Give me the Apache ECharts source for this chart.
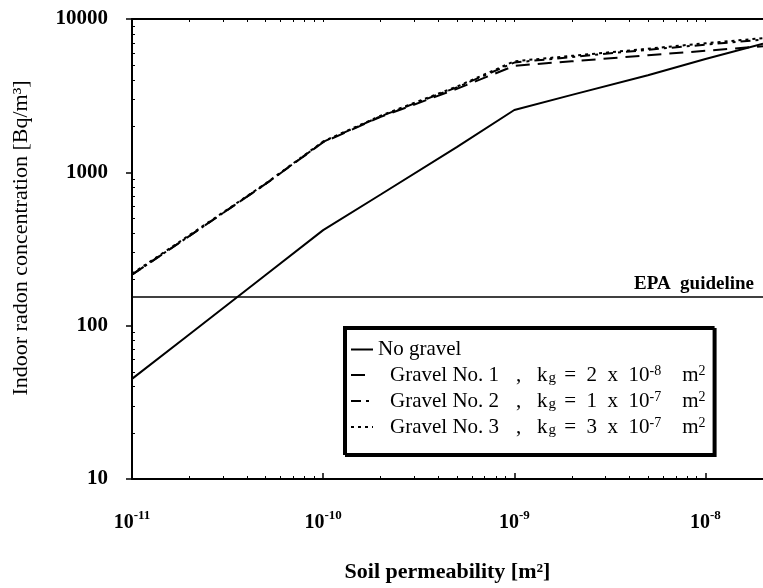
<!DOCTYPE html>
<html>
<head>
<meta charset="utf-8">
<script src="https://cdn.jsdelivr.net/npm/echarts@6/dist/echarts.min.js"></script>
<style>
html,body{margin:0;padding:0;background:#fff;}
#chart{width:763px;height:588px;}
</style>
</head>
<body>
<div id="chart"></div>
<script>
// ---- data ----
const permeability = [1e-11, 2e-11, 5e-11, 1e-10, 2e-10, 5e-10, 1e-9, 2e-9, 5e-9, 1e-8, 2e-8];
const noGravel     = [45, 88, 214, 420, 717, 1460, 2550, 3200, 4300, 5480, 6900];
const gravel1      = [215, 385, 840, 1570, 2300, 3500, 4950, 5300, 5800, 6200, 6650];
const gravel2      = [215, 385, 840, 1580, 2320, 3580, 5200, 5650, 6300, 6800, 7350];
const gravel3      = [218, 390, 845, 1590, 2340, 3620, 5300, 5750, 6400, 6950, 7500];
const epaLevel = 155;

const seriesNames = ['No gravel', 'Gravel No. 1', 'Gravel No. 2', 'Gravel No. 3'];
const kgMantissa = ['', '2', '1', '3'];
const kgExponent = ['', '-8', '-7', '-7'];

const xMajor = [1e-11, 1e-10, 1e-9, 1e-8];
const xTickExp = ['-11', '-10', '-9', '-8'];
const yMajor = [10, 100, 1000, 10000];
const yTickLabels = ['10', '100', '1000', '10000'];

const xMin = 1e-11, xMax = 2e-8, yMin = 10, yMax = 10000;

// minor tick positions (2..9 x decade)
function minorTicks(lo, hi) {
  const out = [];
  for (let e = Math.floor(Math.log10(lo)); e <= Math.ceil(Math.log10(hi)); e++) {
    for (let k = 2; k <= 9; k++) {
      const v = parseFloat((k * Math.pow(10, e)).toPrecision(6));
      if (v > lo && v < hi) out.push(v);
    }
  }
  return out;
}
const xMinor = minorTicks(xMin, xMax);
const yMinor = minorTicks(yMin, yMax);

const FONT = "'Liberation Serif', 'Times New Roman', serif";

function pairs(ys) { return permeability.map((x, i) => [x, ys[i]]); }

const chart = echarts.init(document.getElementById('chart'), null, {renderer: 'canvas'});

const base = {fontFamily: FONT, fontSize: 21, color: '#000', lineHeight: 22, verticalAlign: 'middle'};
const legendRich = {
  a: Object.assign({}, base),
  n: Object.assign({}, base, {width: 126, padding: [0, 0, 0, 12]}),
  c: Object.assign({}, base),
  t: Object.assign({}, base),
  sub: {fontFamily: FONT, fontSize: 15, color: '#000', lineHeight: 4, verticalAlign: 'bottom', padding: [0, 3, 0, 1]},
  sup: {fontFamily: FONT, fontSize: 14, color: '#000', lineHeight: 12, verticalAlign: 'top'}
};

const option = {
  backgroundColor: '#fff',
  animation: false,
  grid: {left: 132, top: 19, right: -5, bottom: 104, containLabel: false},
  xAxis: [
    {
      type: 'log', logBase: 10, min: xMin, max: xMax, position: 'bottom',
      axisLine: {show: true, lineStyle: {color: '#000', width: 2}},
      axisTick: {show: true, inside: true, length: 6, lineStyle: {color: '#000', width: 1.5}, customValues: xMajor},
      splitLine: {show: false},
      axisLabel: {
        customValues: xMajor,
        margin: 30,
        formatter: function (v) {
          const i = xMajor.findIndex(m => Math.abs(Math.log10(m) - Math.log10(v)) < 1e-6);
          return '{b|10}{s|' + (i >= 0 ? xTickExp[i] : '') + '}';
        },
        rich: {
          b: {fontFamily: FONT, fontSize: 20, fontWeight: 'bold', color: '#000', lineHeight: 24, verticalAlign: 'bottom'},
          s: {fontFamily: FONT, fontSize: 13, fontWeight: 'bold', color: '#000', lineHeight: 13, verticalAlign: 'top'}
        }
      },
      name: 'Soil permeability [m²]',
      nameLocation: 'middle',
      nameGap: 82,
      nameTextStyle: {fontFamily: FONT, fontSize: 22, fontWeight: 'bold', color: '#000'}
    },
    {
      type: 'log', logBase: 10, min: xMin, max: xMax, position: 'bottom',
      axisLine: {show: false},
      axisTick: {show: true, inside: true, length: 3, lineStyle: {color: '#000', width: 1}, customValues: xMinor},
      axisLabel: {show: false}, splitLine: {show: false}
    },
    {
      type: 'log', logBase: 10, min: xMin, max: xMax, position: 'top',
      axisLine: {show: true, lineStyle: {color: '#000', width: 2}},
      axisTick: {show: true, inside: true, length: 3, lineStyle: {color: '#000', width: 1}, customValues: xMinor.concat(xMajor)},
      axisLabel: {show: false}, splitLine: {show: false}
    }
  ],
  yAxis: [
    {
      type: 'log', logBase: 10, min: yMin, max: yMax, position: 'left',
      axisLine: {show: true, lineStyle: {color: '#000', width: 2}},
      axisTick: {show: true, inside: false, length: 6, lineStyle: {color: '#000', width: 1.5}, customValues: yMajor},
      splitLine: {show: false},
      axisLabel: {
        customValues: yMajor,
        margin: 24,
        formatter: function (v) {
          const i = yMajor.findIndex(m => Math.abs(Math.log10(m) - Math.log10(v)) < 1e-6);
          return i >= 0 ? yTickLabels[i] : '';
        },
        fontFamily: FONT, fontSize: 21, fontWeight: 'bold', color: '#000'
      },
      name: 'Indoor radon concentration [Bq/m³]',
      nameLocation: 'middle',
      nameGap: 100,
      nameTextStyle: {fontFamily: FONT, fontSize: 22, color: '#000', padding: [0, 0, 0, 22]}
    },
    {
      type: 'log', logBase: 10, min: yMin, max: yMax, position: 'left',
      axisLine: {show: false},
      axisTick: {show: true, inside: true, length: 3, lineStyle: {color: '#000', width: 1}, customValues: yMinor},
      axisLabel: {show: false}, splitLine: {show: false}
    }
  ],
  legend: {
    data: seriesNames,
    orient: 'vertical',
    left: 344, top: 327,
    padding: [12, 8, 16, 6],
    itemGap: 4,
    itemWidth: 22,
    itemHeight: 10,
    backgroundColor: '#fff',
    borderColor: '#000',
    borderWidth: 2,
    borderRadius: 0,
    shadowColor: '#000',
    shadowBlur: 0,
    shadowOffsetX: 2,
    shadowOffsetY: 2,
    selectedMode: false,
    itemStyle: {opacity: 0},
    lineStyle: {width: 2},
    formatter: function (name) {
      const i = seriesNames.indexOf(name);
      if (i === 0) return '{a|' + name + '}';
      return '{n|' + name + '}{c|,   k}{sub|g}{t| =  ' + kgMantissa[i] + '  x  10}{sup|' + kgExponent[i] + '}{t|    m}{sup|2}';
    },
    textStyle: {fontFamily: FONT, fontSize: 21, color: '#000', rich: legendRich}
  },
  series: [
    {
      name: seriesNames[0], type: 'line', data: pairs(noGravel),
      xAxisIndex: 0, yAxisIndex: 0, showSymbol: false, symbol: 'none',
      lineStyle: {color: '#000', width: 2, type: 'solid'},
      itemStyle: {color: '#000'},
      markLine: {
        silent: true, symbol: 'none',
        lineStyle: {color: '#000', width: 1.5, type: 'solid'},
        label: {
          show: true, position: 'insideEndTop', formatter: 'EPA  guideline',
          fontFamily: FONT, fontSize: 19, fontWeight: 'bold', color: '#000',
          padding: [0, 6, 0, 0], distance: 3
        },
        data: [{yAxis: epaLevel}]
      }
    },
    {
      name: seriesNames[1], type: 'line', data: pairs(gravel1),
      xAxisIndex: 0, yAxisIndex: 0, showSymbol: false, symbol: 'none',
      lineStyle: {color: '#000', width: 2, type: [14, 8]},
      itemStyle: {color: '#000'}
    },
    {
      name: seriesNames[2], type: 'line', data: pairs(gravel2),
      xAxisIndex: 0, yAxisIndex: 0, showSymbol: false, symbol: 'none',
      lineStyle: {color: '#000', width: 2, type: [10, 5, 3, 5]},
      itemStyle: {color: '#000'}
    },
    {
      name: seriesNames[3], type: 'line', data: pairs(gravel3),
      xAxisIndex: 0, yAxisIndex: 0, showSymbol: false, symbol: 'none',
      lineStyle: {color: '#000', width: 2, type: [3, 4]},
      itemStyle: {color: '#000'}
    }
  ]
};
chart.setOption(option);
</script>
</body>
</html>
